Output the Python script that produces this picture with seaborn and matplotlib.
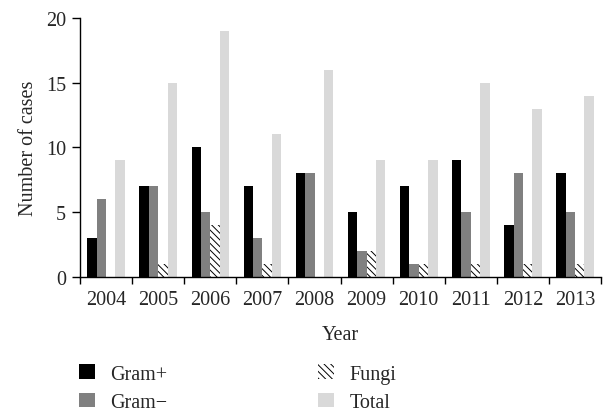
import numpy as np
import pandas as pd
import matplotlib
matplotlib.use("Agg")
import matplotlib.pyplot as plt
import seaborn as sns
from matplotlib.patches import Patch

years = ["2004", "2005", "2006", "2007", "2008", "2009", "2010", "2011", "2012", "2013"]
gram_pos = [3, 7, 10, 7, 8, 5, 7, 9, 4, 8]
gram_neg = [6, 7, 5, 3, 8, 2, 1, 5, 8, 5]
fungi = [0, 1, 4, 1, 0, 2, 1, 1, 1, 1]
total = [9, 15, 19, 11, 16, 9, 9, 15, 13, 14]
series = ["Gram+", "Gram\u2212", "Fungi", "Total"]

df = pd.DataFrame({"Year": years * 4,
                   "Cases": gram_pos + gram_neg + fungi + total,
                   "Type": np.repeat(series, len(years))})

sns.set_style("ticks")
plt.rcParams["font.family"] = ["Liberation Serif", "DejaVu Serif"]
plt.rcParams["hatch.linewidth"] = 0.7

colors = {"Gram+": "#000000", "Gram\u2212": "#808080", "Fungi": "#ffffff", "Total": "#d9d9d9"}
hatch = "\\\\\\\\\\"

fig = plt.figure(figsize=(6.06, 4.14), dpi=100)
ax = fig.add_axes([0.132, 0.3285, 0.86, 0.626])
sns.barplot(data=df, x="Year", y="Cases", hue="Type", palette=colors,
            width=0.72, gap=0, saturation=1, linewidth=0, legend=False, ax=ax)

for bar in ax.containers[2]:
    bar.set_hatch(hatch)
    bar.set_edgecolor("black")
    bar.set_linewidth(0)

fs = 14.5
ax.set_xlim(-0.5, 9.5)
ax.set_ylim(0, 20)
ax.set_yticks([0, 5, 10, 15, 20])
ax.set_xticks(np.arange(-0.5, 10, 1))
ax.set_xticklabels([])
ax.set_xticks(np.arange(10), minor=True)
ax.set_xticklabels(years, minor=True)
ax.tick_params(axis="x", which="minor", length=0, labelsize=fs, pad=9)
ax.tick_params(axis="x", which="major", length=5, width=1, color="black")
ax.tick_params(axis="y", length=6, width=1, labelsize=fs, color="black", pad=4)
for s in ["left", "bottom"]:
    ax.spines[s].set_color("black")
    ax.spines[s].set_linewidth(1)
sns.despine(ax=ax)
ax.set_xlabel("Year", fontsize=fs, labelpad=12)
ax.set_ylabel("Number of cases", fontsize=fs, labelpad=6)

handles = [Patch(facecolor=colors[s], edgecolor="black", linewidth=0,
                 hatch=hatch if s == "Fungi" else None) for s in series]
fig.legend(handles, series, ncol=2, frameon=False, fontsize=fs,
           loc="upper left", bbox_to_anchor=(0.13, 0.118), bbox_transform=fig.transFigure,
           handlelength=0.8, handleheight=0.75, handletextpad=0.75,
           columnspacing=7.5, labelspacing=0.45, borderpad=0, borderaxespad=0)

fig.savefig("out.png", dpi=100)
